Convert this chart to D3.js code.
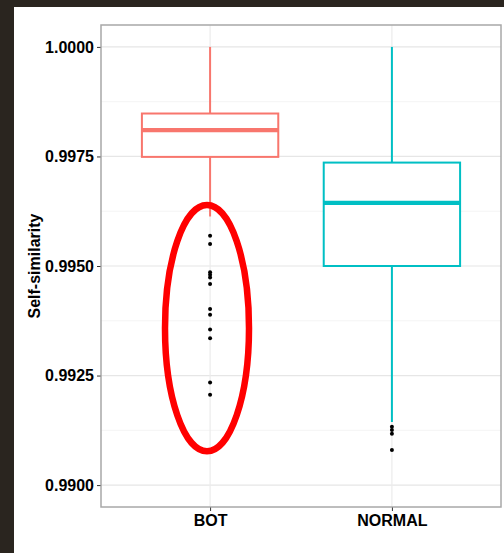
<!DOCTYPE html>
<html>
<head>
<meta charset="utf-8">
<script src="https://cdn.jsdelivr.net/npm/d3@7"></script>
<style>
  html, body { margin: 0; padding: 0; background: #fff; }
  svg { display: block; font-family: "Liberation Sans", Arial, sans-serif; }
</style>
</head>
<body>
<div class="panel"></div>
<script>
// box statistics
const groups = ["BOT", "NORMAL"];
const whiskerHigh = [1.0000, 1.0000];
const q3 = [0.99848, 0.99736];
const medians = [0.99810, 0.99644];
const q1 = [0.99749, 0.99500];
const whiskerLow = [0.99613, 0.99144];
const botOutliers = [0.99569, 0.99550, 0.99486, 0.99480, 0.99474, 0.99459,
                     0.99402, 0.99389, 0.99355, 0.99335, 0.99234, 0.99206];
const normalOutliers = [0.99133, 0.99126, 0.99117, 0.99080];
const yTicks = [0.9900, 0.9925, 0.9950, 0.9975, 1.0000];
const yMinorTicks = [0.99125, 0.99375, 0.99625, 0.99875];
// red annotation ring around the BOT outliers (data units)
const ringTop = 0.99639;
const ringBottom = 0.99077;

const width = 504;
const height = 553;
const margin = {top: 25, right: 3, bottom: 46, left: 101};
const colours = {BOT: "#F8766D", NORMAL: "#00BFC4"};

const svg = d3.select(".panel")
    .append("svg")
    .attr("width", width)
    .attr("height", height)
    .attr("viewBox", `0 0 ${width} ${height}`);

// dark frame strips of the screenshot
svg.append("rect").attr("x", 0).attr("y", 0).attr("width", width).attr("height", 7).attr("fill", "#2a251f");
svg.append("rect").attr("x", 0).attr("y", 0).attr("width", 14).attr("height", height).attr("fill", "#2a251f");

const x = d3.scalePoint()
    .domain(groups)
    .range([margin.left, width - margin.right])
    .padding(0.6);

const y = d3.scaleLinear()
    .domain([0.9895, 1.0005])
    .range([height - margin.bottom, margin.top]);

const step = x.step();
const boxWidth = step * 0.75;

// grid
svg.append("g")
   .selectAll("line")
   .data(yMinorTicks)
   .enter()
   .append("line")
   .attr("x1", margin.left).attr("x2", width - margin.right)
   .attr("y1", d => y(d)).attr("y2", d => y(d))
   .attr("stroke", "#f4f4f4").attr("stroke-width", 1);

svg.append("g")
   .selectAll("line")
   .data(yTicks)
   .enter()
   .append("line")
   .attr("x1", margin.left).attr("x2", width - margin.right)
   .attr("y1", d => y(d)).attr("y2", d => y(d))
   .attr("stroke", "#e6e6e6").attr("stroke-width", 1.2);

svg.append("g")
   .selectAll("line")
   .data(groups)
   .enter()
   .append("line")
   .attr("x1", d => x(d)).attr("x2", d => x(d))
   .attr("y1", margin.top).attr("y2", height - margin.bottom)
   .attr("stroke", "#ebebeb").attr("stroke-width", 1.2);

// boxes
const boxes = svg.selectAll(".box")
    .data(groups.map((g, i) => ({
        name: g, lo: whiskerLow[i], q1: q1[i], med: medians[i], q3: q3[i], hi: whiskerHigh[i]
    })))
    .enter()
    .append("g")
    .attr("class", "box");

boxes.append("line")
     .attr("x1", d => x(d.name)).attr("x2", d => x(d.name))
     .attr("y1", d => y(d.hi)).attr("y2", d => y(d.q3))
     .attr("stroke", d => colours[d.name]).attr("stroke-width", 2);

boxes.append("line")
     .attr("x1", d => x(d.name)).attr("x2", d => x(d.name))
     .attr("y1", d => y(d.q1)).attr("y2", d => y(d.lo))
     .attr("stroke", d => colours[d.name]).attr("stroke-width", 2);

boxes.append("rect")
     .attr("x", d => x(d.name) - boxWidth / 2)
     .attr("y", d => y(d.q3))
     .attr("width", boxWidth)
     .attr("height", d => y(d.q1) - y(d.q3))
     .attr("fill", "#fff")
     .attr("stroke", d => colours[d.name])
     .attr("stroke-width", 2);

boxes.append("line")
     .attr("x1", d => x(d.name) - boxWidth / 2).attr("x2", d => x(d.name) + boxWidth / 2)
     .attr("y1", d => y(d.med)).attr("y2", d => y(d.med))
     .attr("stroke", d => colours[d.name]).attr("stroke-width", 4.2);

// outliers
const outliers = botOutliers.map(v => ({name: "BOT", v}))
    .concat(normalOutliers.map(v => ({name: "NORMAL", v})));

svg.append("g")
   .selectAll("circle")
   .data(outliers)
   .enter()
   .append("circle")
   .attr("cx", d => x(d.name))
   .attr("cy", d => y(d.v))
   .attr("r", 2)
   .attr("fill", "#000");

// panel border
svg.append("rect")
   .attr("x", margin.left).attr("y", margin.top)
   .attr("width", width - margin.right - margin.left)
   .attr("height", height - margin.bottom - margin.top)
   .attr("fill", "none")
   .attr("stroke", "#a8a8a8")
   .attr("stroke-width", 1.5);

// red ring annotation
svg.append("ellipse")
   .attr("cx", x("BOT") - step * 0.017)
   .attr("cy", (y(ringTop) + y(ringBottom)) / 2)
   .attr("rx", step * 0.231)
   .attr("ry", (y(ringBottom) - y(ringTop)) / 2)
   .attr("fill", "none")
   .attr("stroke", "#ff0000")
   .attr("stroke-width", 6.5);

// axes
const yAxis = svg.append("g")
    .attr("transform", `translate(${margin.left - 0.5},0)`)
    .call(d3.axisLeft(y).tickValues(yTicks).tickFormat(d3.format(".4f")).tickSize(3.5).tickPadding(3));
yAxis.select(".domain").remove();
yAxis.selectAll(".tick line").attr("stroke", "#333");
yAxis.selectAll("text")
     .attr("fill", "#000")
     .attr("font-size", 16)
     .attr("font-weight", "bold")
     .attr("font-family", "'Liberation Sans', Arial, sans-serif");

const xAxis = svg.append("g")
    .attr("transform", `translate(0,${height - margin.bottom + 0.5})`)
    .call(d3.axisBottom(x).tickSize(3.5).tickPadding(4));
xAxis.select(".domain").remove();
xAxis.selectAll(".tick line").attr("stroke", "#333");
xAxis.selectAll("text")
     .attr("fill", "#000")
     .attr("font-size", 16)
     .attr("font-weight", "bold")
     .attr("font-family", "'Liberation Sans', Arial, sans-serif");

svg.append("text")
   .attr("transform", `translate(40,${(margin.top + height - margin.bottom) / 2}) rotate(-90)`)
   .attr("text-anchor", "middle")
   .attr("font-size", 16)
   .attr("font-weight", "bold")
   .attr("fill", "#000")
   .text("Self-similarity");
</script>
</body>
</html>
